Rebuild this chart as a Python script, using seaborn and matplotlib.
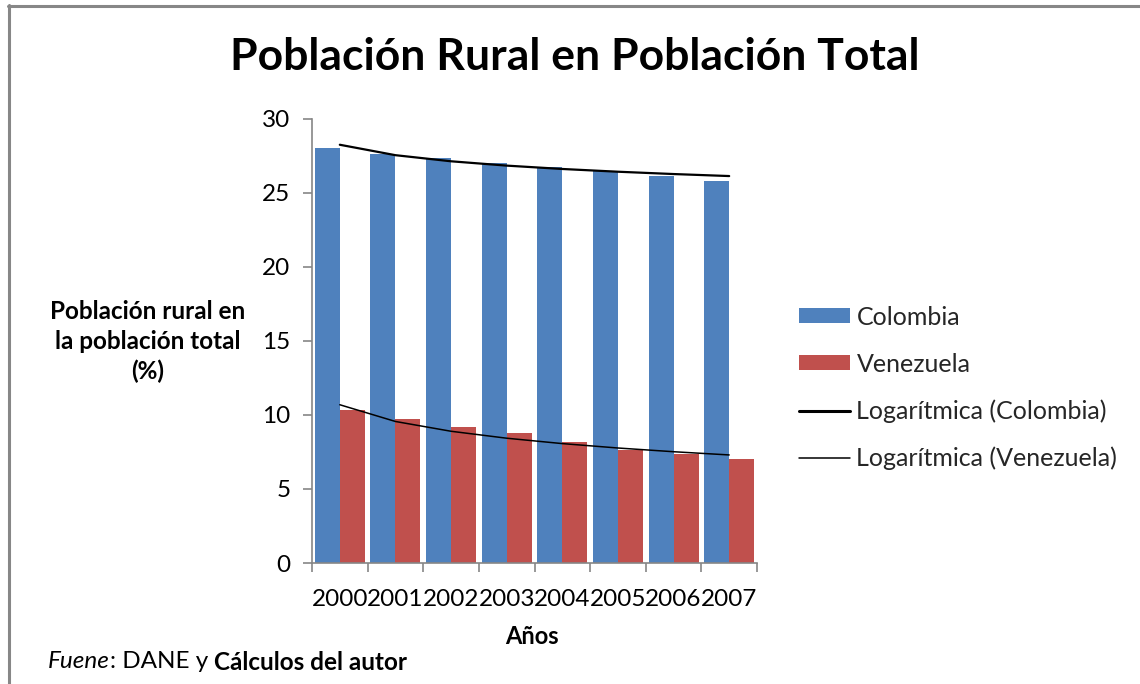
import numpy as np
import pandas as pd
import matplotlib
matplotlib.use('Agg')
import matplotlib.pyplot as plt
import seaborn as sns
from matplotlib.patches import Patch
from matplotlib.lines import Line2D

# ---- data ----
years = ['2000', '2001', '2002', '2003', '2004', '2005', '2006', '2007']
colombia = [28.0, 27.6, 27.35, 27.0, 26.75, 26.5, 26.15, 25.8]
venezuela = [10.3, 9.75, 9.2, 8.75, 8.2, 7.65, 7.35, 7.0]
series_names = ['Colombia', 'Venezuela']
trend_names = ['Logarítmica (Colombia)', 'Logarítmica (Venezuela)']
colors = ['#4F81BD', '#C0504D']

sns.set_theme(style='white')
plt.rcParams['font.family'] = ['Lato', 'DejaVu Sans']

df = pd.DataFrame({
    'Año': years * 2,
    'Valor': colombia + venezuela,
    'País': [series_names[0]] * len(years) + [series_names[1]] * len(years),
})

fig = plt.figure(figsize=(11.4, 6.84), dpi=100)
W, H = 1140, 684
ax = fig.add_axes([312 / W, 1 - 563 / H, (757 - 312) / W, (563 - 118.7) / H])

sns.barplot(data=df, x='Año', y='Valor', hue='País', palette=colors,
            width=0.9, gap=0, saturation=1, errorbar=None, legend=False,
            linewidth=0, ax=ax)

# logarithmic trendlines (Excel style: y = a + b ln(x), x = 1..n)
xs = np.arange(1, len(years) + 1)
lws = [1.6, 1.1]
for vals, lw in zip([colombia, venezuela], lws):
    b, a = np.polyfit(np.log(xs), np.array(vals), 1)
    ax.plot(xs - 1, a + b * np.log(xs), color='black', lw=lw, zorder=5)

ax.set_xlim(-0.5, len(years) - 0.5)
ax.set_ylim(0, 30)
ax.set_yticks([0, 5, 10, 15, 20, 25, 30])
ax.set_xlabel('')
ax.set_ylabel('')
for s in ['top', 'right']:
    ax.spines[s].set_visible(False)
for s in ['left', 'bottom']:
    ax.spines[s].set_color('#868686')
    ax.spines[s].set_linewidth(1.2)
ax.tick_params(axis='y', which='major', direction='out', length=6.5, width=1.2,
               color='#868686', left=True, labelsize=17.5, pad=9, labelcolor='#000000')
ax.set_xticks(np.arange(-0.5, len(years)), minor=True)
ax.tick_params(axis='x', which='minor', direction='out', length=6.5, width=1.2,
               color='#868686', bottom=True)
ax.tick_params(axis='x', which='major', length=0, labelsize=17.5, pad=19, labelcolor='#000000')
ax.grid(False)

# title
fig.text(575 / W, 1 - 57 / H, 'Población Rural en Población Total', ha='center', va='center',
         fontsize=32, fontweight='bold', color='black')

# y label
fig.text(148 / W, 1 - 342 / H, 'Población rural en\nla población total\n(%)', ha='center', va='center',
         fontsize=17.5, fontweight='bold', linespacing=1.35, color='black')

# x label
fig.text(532 / W, 1 - 637 / H, 'Años', ha='center', va='center', fontsize=17,
         fontweight='bold', color='black')

# legend
handles = [Patch(facecolor=colors[0], edgecolor='none'),
           Patch(facecolor=colors[1], edgecolor='none'),
           Line2D([], [], color='black', lw=lws[0] + 0.6),
           Line2D([], [], color='black', lw=lws[1])]
labels = series_names + trend_names
fig.legend(handles, labels, loc='center left', bbox_to_anchor=(799 / W, 1 - 388 / H),
           frameon=False, fontsize=18, handlelength=2.05, handleheight=0.55,
           handletextpad=0.25, labelspacing=0.95, borderpad=0, borderaxespad=0)

# footer: Fuene: DANE y Cálculos del autor
fig.canvas.draw()
r = fig.canvas.get_renderer()
x0 = 48
yf = 1 - 662 / H
parts = [('Fuene', 'italic', 'normal'), (': DANE y ', 'normal', 'normal'),
         ('Cálculos del autor', 'normal', 'bold')]
for txt, style, weight in parts:
    t = fig.text(x0 / W, yf, txt, ha='left', va='center', fontsize=17.5,
                 fontstyle=style, fontweight=weight, color='black')
    bb = t.get_window_extent(renderer=r)
    x0 += bb.width

# outer frame (top & left)
fig.add_artist(Line2D([9 / W, 9 / W], [0, 1 - 5 / H], transform=fig.transFigure,
                      color='#878787', lw=2.2))
fig.add_artist(Line2D([8 / W, 1], [1 - 5.5 / H, 1 - 5.5 / H], transform=fig.transFigure,
                      color='#878787', lw=2.2))

fig.savefig('out.png', dpi=100, facecolor='white')
